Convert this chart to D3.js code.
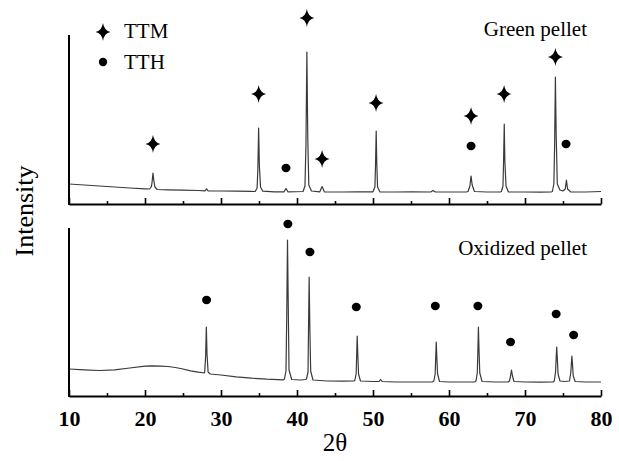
<!DOCTYPE html>
<html>
<head>
<meta charset="utf-8">
<script src="https://cdn.jsdelivr.net/npm/d3@7"></script>
<style>
  html, body { margin: 0; padding: 0; background: #fff; }
  svg { display: block; }
  text { font-family: "Liberation Serif", "Times New Roman", serif; fill: #000; }
</style>
</head>
<body>
<script>
// ---------------- DATA ----------------
const panelNames = ["Green pellet", "Oxidized pellet"];
const legendLabels = ["TTM", "TTH"];
const xLabel = "2\u03b8";
const yLabel = "Intensity";
const xMajorTicks = [10, 20, 30, 40, 50, 60, 70, 80];
const xMinorTicks = [15, 25, 35, 45, 55, 65, 75];

// Green pellet pattern [2θ, intensity (a.u.)]
const greenPattern = [
  [10,200],[12,190],[14,180],[16,170],[18,160],[20,152],
  [20.6,150],[20.85,175],[20.95,230],[21.05,310],[21.15,240],[21.3,170],[21.6,145],
  [23,142],[25,138],[27,135],[27.9,132],[28.1,152],[28.3,132],
  [30,130],[32,128],[34,126],
  [34.5,125],[34.75,160],[34.85,350],[34.95,760],[35.05,380],[35.2,170],[35.5,128],
  [37,122],[38.3,122],[38.55,155],[38.8,122],
  [40.8,125],[41.05,180],[41.18,600],[41.3,1520],[41.42,650],[41.55,190],[41.9,130],
  [43.0,122],[43.3,175],[43.6,122],
  [46,120],[48,122],
  [50.0,122],[50.25,170],[50.33,380],[50.42,730],[50.5,400],[50.6,170],[50.9,122],
  [53,120],[55,122],[57.6,120],[57.9,135],[58.2,120],[60,120],[62.3,122],
  [62.5,125],[62.75,180],[62.9,280],[63.05,190],[63.35,125],
  [65,120],[66.8,122],
  [66.9,125],[67.1,180],[67.18,420],[67.27,800],[67.35,430],[67.5,180],[67.8,122],
  [70,120],[72,118],[73.5,122],
  [73.6,125],[73.8,200],[73.9,600],[74.0,1270],[74.1,700],[74.25,200],[74.6,140],[75.0,130],
  [75.3,150],[75.45,240],[75.6,150],[76,122],[78,120],[80,125]
];

// Oxidized pellet pattern [2θ, intensity (a.u.)]
const oxidizedPattern = [
  [10,270],[12,262],[14,255],[16,262],[18,280],[20,298],[21,301],[22,299],[23,295],[24,285],
  [25,270],[26,252],[27,238],[27.8,230],
  [27.85,235],[27.98,400],[28.07,690],[28.16,420],[28.3,240],[28.6,220],
  [30,210],[32,192],[34,178],[36,168],[38.2,162],
  [38.35,170],[38.55,250],[38.65,800],[38.75,1560],[38.85,900],[38.95,260],[39.3,165],
  [40.5,160],[41.1,165],
  [41.25,170],[41.45,240],[41.52,700],[41.6,1190],[41.68,720],[41.8,250],[42.1,160],
  [44,150],[46,148],[47.5,150],
  [47.6,155],[47.78,220],[47.85,400],[47.92,600],[48.0,420],[48.1,220],[48.35,150],
  [50,145],[50.8,145],[51.0,165],[51.2,145],[53,140],[55,140],[57.8,140],
  [58.0,150],[58.18,220],[58.25,380],[58.32,540],[58.4,380],[58.5,220],[58.75,145],
  [60,140],[62,140],[63.4,142],
  [63.55,150],[63.72,230],[63.8,450],[63.87,690],[63.95,460],[64.05,230],[64.35,145],
  [66,140],[67.8,140],
  [67.95,150],[68.1,200],[68.22,260],[68.35,200],[68.55,145],
  [70,140],[72,138],[73.7,140],
  [73.85,150],[74.02,240],[74.1,380],[74.17,490],[74.25,380],[74.35,220],[74.6,150],[75.2,145],
  [75.85,150],[76.02,230],[76.1,320],[76.17,400],[76.25,320],[76.35,200],[76.6,145],
  [78,140],[80,140]
];

// Phase markers [2θ, intensity position]
const greenTTM = [[21.05,600],[34.95,1100],[41.3,1860],[43.3,450],[50.4,1010],[62.9,880],[67.25,1100],[74.0,1470]];
const greenTTH = [[38.55,360],[62.9,580],[75.4,600]];
const oxidizedTTH = [[28.1,960],[38.8,1720],[41.7,1440],[47.8,890],[58.2,900],[63.8,900],[68.1,540],[74.1,820],[76.4,610]];

// ---------------- LAYOUT ----------------
const W = 619, H = 461;
const svg = d3.select("body").append("svg").attr("width", W).attr("height", H);

const x = d3.scaleLinear().domain([10, 80]).range([69, 601]);
const yTop = d3.scaleLinear().domain([0, 1690]).range([204, 35]);
const yBot = d3.scaleLinear().domain([0, 1680]).range([396, 228]);

const starPath = "M0,-9 Q1.2,-1.2 7.5,0 Q1.2,1.2 0,9 Q-1.2,1.2 -7.5,0 Q-1.2,-1.2 0,-9Z";

function drawPanel(y, pattern, ttm, tth, name, nameY, showLabels) {
  const g = svg.append("g");
  const line = d3.line().x(d => x(d[0])).y(d => y(d[1]));
  g.append("path").datum(pattern)
    .attr("d", line).attr("fill", "none")
    .attr("stroke", "#3a3a3a").attr("stroke-width", 1.2)
    .attr("stroke-linejoin", "round");

  const y0 = y.range()[0];
  const major = g.append("g").attr("transform", `translate(0,${y0})`)
    .call(d3.axisBottom(x).tickValues(xMajorTicks).tickSize(-6).tickSizeOuter(0)
      .tickFormat(showLabels ? d3.format("d") : ""));
  major.select(".domain").attr("stroke", "#000").attr("stroke-width", 2);
  major.selectAll(".tick line").attr("stroke", "#000").attr("stroke-width", 1.6);
  major.selectAll(".tick text")
    .attr("y", 10).attr("dy", "0.9em")
    .style("font-family", "'Liberation Serif', 'Times New Roman', serif")
    .style("font-size", "22px").style("font-weight", "bold").attr("fill", "#000");
  const minor = g.append("g").attr("transform", `translate(0,${y0})`)
    .call(d3.axisBottom(x).tickValues(xMinorTicks).tickSize(-3).tickSizeOuter(0).tickFormat(""));
  minor.select(".domain").remove();
  minor.selectAll(".tick line").attr("stroke", "#000").attr("stroke-width", 1.6);

  g.append("line")
    .attr("x1", x(10)).attr("x2", x(10))
    .attr("y1", y.range()[1]).attr("y2", y0 + 1)
    .attr("stroke", "#000").attr("stroke-width", 2);

  g.selectAll(".ttm").data(ttm).enter().append("path")
    .attr("d", starPath)
    .attr("transform", d => `translate(${x(d[0])},${y(d[1])})`)
    .attr("fill", "#000");
  g.selectAll(".tth").data(tth).enter().append("ellipse")
    .attr("cx", d => x(d[0])).attr("cy", d => y(d[1]))
    .attr("rx", 4.5).attr("ry", 4.2).attr("fill", "#000");

  g.append("text").attr("x", 587).attr("y", nameY)
    .attr("text-anchor", "end").style("font-size", "21px").text(name);
}

drawPanel(yTop, greenPattern, greenTTM, greenTTH, panelNames[0], 36, false);
drawPanel(yBot, oxidizedPattern, [], oxidizedTTH, panelNames[1], 255, true);

const legend = svg.append("g");
legend.append("path").attr("d", starPath).attr("transform", "translate(103,32)").attr("fill", "#000");
legend.append("ellipse").attr("cx", 103).attr("cy", 62).attr("rx", 4.2).attr("ry", 4.2).attr("fill", "#000");
legend.append("text").attr("x", 124).attr("y", 38).style("font-size", "21px").text(legendLabels[0]);
legend.append("text").attr("x", 124).attr("y", 69).style("font-size", "21px").text(legendLabels[1]);

svg.append("text").attr("x", x(45)).attr("y", 451)
  .attr("text-anchor", "middle").style("font-size", "25px").text(xLabel);
svg.append("text")
  .attr("transform", "translate(33,211) rotate(-90)")
  .attr("text-anchor", "middle").style("font-size", "26px").text(yLabel);
</script>
</body>
</html>
